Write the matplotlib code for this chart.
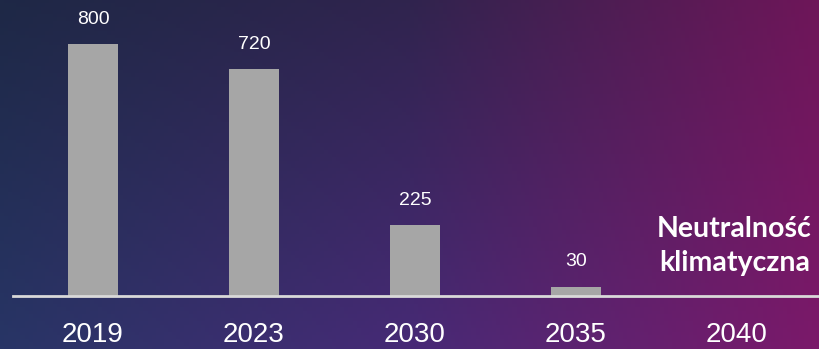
import numpy as np
import matplotlib
matplotlib.use("Agg")
import matplotlib.pyplot as plt
from matplotlib.colors import to_rgb

years = ["2019", "2023", "2030", "2035", "2040"]
values = [800, 720, 225, 30]
value_labels = ["800", "720", "225", "30"]
note = "Neutralność\nklimatyczna"

W, H = 820, 349
fig = plt.figure(figsize=(W / 100, H / 100), dpi=100)

# background gradient
bg = fig.add_axes([0, 0, 1, 1])
bg.set_axis_off()
tl, tm, tr = map(np.array, map(to_rgb, ["#1e2846", "#30244e", "#6e1659"]))
bl, bm, br = map(np.array, map(to_rgb, ["#283566", "#472a76", "#7b196a"]))
nx, ny = 200, 100
xs = np.linspace(0, 1, nx)[None, :, None]
ys = np.linspace(0, 1, ny)[:, None, None]
def row(l, m, r):
    left = l + (m - l) * np.clip(xs / 0.5, 0, 1)
    right = m + (r - m) * np.clip((xs - 0.5) / 0.5, 0, 1)
    return np.where(xs <= 0.5, left, right)
top = row(tl, tm, tr)
bot = row(bl, bm, br)
img = top * (1 - ys) + bot * ys
bg.imshow(img, extent=[0, 1, 0, 1], aspect="auto", origin="upper")
bg.set_xlim(0, 1)
bg.set_ylim(0, 1)

ax = fig.add_axes([0, 0, 1, 1])
ax.set_facecolor("none")
x = np.arange(len(values))
ax.bar(x, values, width=0.31, color="#a6a6a6", zorder=2)
for xi, v, lab in zip(x, values, value_labels):
    ax.text(xi, v + 52, lab, ha="center", va="bottom", color="white",
            fontsize=14, family="Liberation Sans")

# scale: 0.315 px per unit, baseline at y=296px from top
ppu = 0.315
y0 = 296
ax.set_ylim(-(H - y0) / ppu, y0 / ppu)
spacing = 161.0
c0 = 93.0
ax.set_xlim((0 - c0) / spacing, (W - c0) / spacing)
ax.axhline(0, xmin=(13) / W, xmax=1, color="#d9d9d9", lw=2, zorder=3)
for xi, yl in enumerate(years):
    ax.text(xi, -(335 - y0) / ppu, yl, ha="center", va="center", color="white",
            fontsize=20, family="Liberation Sans")
ax.text(3.985, (296 - 246) / ppu, note, ha="center", va="center", color="white",
        fontsize=20.5, fontweight="bold", family="Lato", linespacing=1.35)
ax.set_axis_off()

fig.savefig("out.png", dpi=100)
